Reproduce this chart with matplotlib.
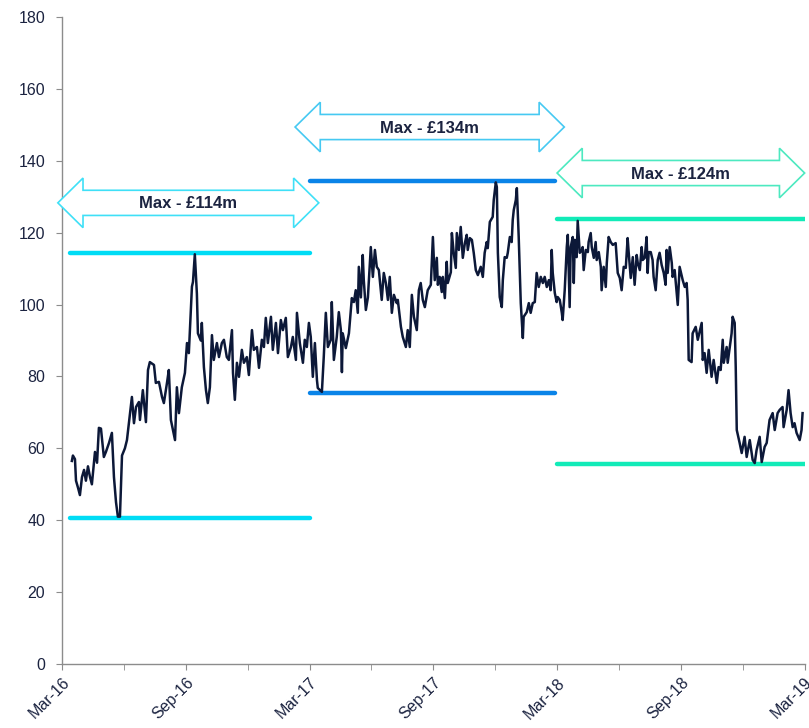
import matplotlib
matplotlib.use("Agg")
import matplotlib.pyplot as plt
from matplotlib.patches import Polygon

plt.rcParams['font.family'] = ['Liberation Sans', 'DejaVu Sans']

# time axis: months since Mar-16
months = [0.48,0.53,0.63,0.68,0.78,0.87,0.97,1.07,1.16,1.26,1.36,1.45,1.60,1.70,1.79,1.89,2.03,2.13,2.28,2.42,
          2.52,2.62,2.71,2.81,2.91,3.05,3.15,3.25,3.39,3.49,3.59,3.73,3.78,3.92,4.07,4.17,4.26,4.46,4.55,4.70,
          4.85,4.94,5.09,5.18,5.28,5.48,5.57,5.67,5.81,5.96,6.06,6.15,6.30,6.35,6.44,6.54,6.59,6.73,6.78,6.88,
          6.98,7.07,7.17,7.27,7.36,7.51,7.61,7.75,7.85,7.99,8.09,8.24,8.29,8.38,8.48,8.58,8.72,8.82,8.96,9.06,
          9.21,9.30,9.45,9.55,9.69,9.79,9.88,9.98,10.13,10.22,10.37,10.47,10.61,10.71,10.85,10.95,11.10,11.19,11.34,11.39,
          11.53,11.68,11.77,11.87,11.97,12.06,12.16,12.26,12.36,12.40,12.60,12.69,12.79,12.89,13.03,13.08,13.18,13.32,13.42,13.52,
          13.57,13.61,13.76,13.91,14.05,14.15,14.24,14.34,14.39,14.49,14.58,14.63,14.73,14.83,14.97,15.07,15.17,15.26,15.36,15.50,
          15.60,15.70,15.80,15.89,15.99,16.09,16.23,16.28,16.43,16.52,16.67,16.76,16.86,16.96,17.06,17.20,17.30,17.39,17.49,17.59,
          17.73,17.88,17.98,18.07,18.17,18.22,18.31,18.41,18.46,18.56,18.65,18.70,18.85,18.90,18.99,19.09,19.14,19.24,19.33,19.43,
          19.53,19.62,19.67,19.77,19.87,19.96,20.06,20.16,20.30,20.40,20.49,20.59,20.64,20.74,20.88,20.93,21.03,21.08,21.13,21.22,
          21.32,21.37,21.46,21.56,21.61,21.71,21.80,21.85,21.90,22.00,22.05,22.14,22.24,22.34,22.38,22.53,22.63,22.72,22.82,22.92,
          23.01,23.11,23.21,23.31,23.40,23.50,23.60,23.69,23.74,23.79,23.89,23.98,24.03,24.13,24.23,24.27,24.37,24.47,24.52,24.61,
          24.66,24.76,24.81,24.86,24.95,25.00,25.10,25.20,25.24,25.29,25.39,25.49,25.53,25.63,25.68,25.78,25.87,25.92,26.02,26.12,
          26.16,26.26,26.36,26.41,26.50,26.60,26.70,26.84,26.94,27.04,27.13,27.23,27.33,27.42,27.47,27.57,27.67,27.76,27.86,27.91,
          28.01,28.10,28.15,28.25,28.34,28.39,28.44,28.54,28.63,28.68,28.78,28.88,28.97,29.07,29.17,29.26,29.31,29.36,29.46,29.56,
          29.60,29.70,29.80,29.85,29.94,30.09,30.19,30.28,30.33,30.38,30.52,30.57,30.72,30.82,31.01,31.06,31.15,31.25,31.35,31.49,
          31.59,31.74,31.83,31.93,32.03,32.08,32.22,32.27,32.37,32.46,32.51,32.61,32.66,32.71,32.85,32.95,33.09,33.19,33.34,33.48,
          33.58,33.67,33.82,33.92,34.06,34.16,34.30,34.45,34.55,34.69,34.79,34.93,34.98,35.13,35.22,35.32,35.42,35.51,35.61,35.76,
          35.85,35.90]

values = [56.5,58,57,51,49,47,52,54,51,55,52,50,59,56,65.7,65.5,57.6,59,61.5,64.3,
          52,45,41,41,58,60,62.3,67.3,74.3,67,71.5,72.9,67.9,76.2,67.3,81.8,84,83.2,78.2,78.5,
          74.3,72.6,78.2,81.8,67.9,62.3,77,69.8,77,81,89.3,86.5,105,106.3,114,103,92,90,94.9,82.6,
          76.2,72.6,77,91.5,84.6,89.3,85.4,89.3,90.2,85.4,84.6,92.9,81,73.5,83.8,79.9,87.4,83.8,85.4,80.4,
          92.9,87.4,88.2,82.4,90.2,88.2,96.3,89.3,96.6,87.4,94.9,86.5,95.7,92.9,96.3,85.4,88.2,91,84.6,97.7,
          89.3,83.8,90.2,88.2,94.9,91,79.9,89.3,79,76.8,75.7,85.4,97.7,88.2,90.2,100.7,84.6,91,97.9,92.9,
          81.2,92,87.9,92,101.8,100.7,104,97.7,110.5,102,113.8,106.8,98.5,102,116,107.7,115.2,110.5,109.6,101.3,
          108.8,106,101.3,107.7,97.7,102.7,100.4,101.3,93.8,91,88.2,92.9,88.2,102.7,96.6,92.9,104,106,101.3,99.3,
          104,105.5,118.8,106.8,113,105.5,107.7,103.5,107.7,101.8,111.9,106,109,119.9,114.4,110.2,119.9,115.2,121.6,113,
          117.1,119.4,115.2,118.5,118,114.4,109.6,108.2,110.5,107.7,114.4,117.4,115.7,123,124.4,129.1,134,132.7,114.4,102.1,
          99.3,106.8,113.2,113,114.4,118.8,117.4,123.5,126.3,129.1,132.4,118.8,100.4,90.7,96.6,97.9,100.4,97.7,100.4,100.7,
          108.8,104.9,107.7,106,107.7,104.9,106.8,104,115.2,108.8,103.2,100.7,102.1,101.3,97.7,95.7,104,116,119.4,99.3,
          116,118.8,106,118,113.2,123.3,114.4,115.2,116,109.6,115.2,114.6,117.4,119.9,116,113,117.4,112.4,114.6,110.5,
          104,110.5,104.9,111.6,118.8,117.4,116.6,117.1,108.8,107.4,104,110.5,110.2,118.5,114.6,107.4,113.2,105.5,113.8,111.6,
          109.6,116,112.4,113,118.8,108.8,114.6,114.6,112.4,107.7,104,112.4,114.4,111,108.8,105.5,115.2,108.8,116,111.6,
          107.7,109.6,103.2,99.9,110.5,106.8,104.9,106,101.3,84.6,84,92,93.8,90.2,94.9,84.6,86.5,81,87.4,79.9,
          84.6,78.2,82.6,81.8,90.2,83.8,88.2,83.8,88.2,92,96.6,94.9,82.6,65.1,61.5,58.7,63.2,57.6,62.3,56.8,
          55.9,59.5,63.2,56.2,60.4,61.5,67.9,69.8,65.1,69.8,70.7,71.5,65.9,70.7,76.2,69.8,65.9,67,64.3,62.3,
          65.1,69.8]

# periods (start month, end month), max and min levels
period_start = [0.4, 12.0, 24.0]
period_end = [12.0, 23.9, 36.0]
period_max = [114.4, 134.3, 123.8]
period_min = [40.6, 75.3, 55.6]
period_labels = ['Max - £114m', 'Max - £134m', 'Max - £124m']
period_colors = ['#00dcf5', '#0a84e8', '#12ebb8']
arrow_colors = ['#3fe0f7', '#46c9f2', '#4de9c0']

tick_months = [0, 6, 12, 18, 24, 30, 36]
tick_labels = ['Mar-16', 'Sep-16', 'Mar-17', 'Sep-17', 'Mar-18', 'Sep-18', 'Mar-19']

text_color = '#1b2340'
line_color = '#0c1838'

fig = plt.figure(figsize=(8.09, 7.28), dpi=100)
ax = fig.add_axes([0.0766, 0.0879, 0.918, 0.8887])
ax.set_xlim(0, 36)
ax.set_ylim(0, 180)

for s, e, mx, mn, c in zip(period_start, period_end, period_max, period_min, period_colors):
    ax.plot([s, e], [mx, mx], color=c, lw=3.2, solid_capstyle='round', zorder=2)
    ax.plot([s, e], [mn, mn], color=c, lw=3.2, solid_capstyle='round', zorder=2)

ax.plot(months, values, color=line_color, lw=1.8, zorder=3)

# double-headed outline arrows (left tip, right tip, centre level)
arrow_left = [-0.2, 11.3, 24.0]
arrow_right = [12.45, 24.35, 36.0]
arrow_mid = [128.3, 149.4, 136.6]
for l, r, m, c, lab in zip(arrow_left, arrow_right, arrow_mid, arrow_colors, period_labels):
    hl = 1.22
    bh = 3.5
    hh = 6.9
    pts = [(l, m), (l + hl, m + hh), (l + hl, m + bh), (r - hl, m + bh), (r - hl, m + hh),
           (r, m), (r - hl, m - hh), (r - hl, m - bh), (l + hl, m - bh), (l + hl, m - hh)]
    ax.add_patch(Polygon(pts, closed=True, facecolor='white', edgecolor=c, lw=1.2,
                         clip_on=False, zorder=4))
    ax.text((l + r) / 2, m - 0.3, lab, ha='center', va='center', fontsize=12,
            fontweight='bold', color=text_color, zorder=5)

for side in ['top', 'right']:
    ax.spines[side].set_visible(False)
for side in ['left', 'bottom']:
    ax.spines[side].set_color('#8c8c8c')
    ax.spines[side].set_linewidth(1.0)

ax.set_yticks(range(0, 181, 20))
ax.set_xticks(tick_months)
ax.set_xticks([3, 9, 15, 21, 27, 33], minor=True)
ax.set_xticklabels(tick_labels, rotation=45, ha='right', rotation_mode='anchor')
ax.tick_params(axis='both', which='both', direction='out', color='#8c8c8c', length=4,
               labelsize=11.5, labelcolor=text_color)
ax.tick_params(axis='y', pad=8)
ax.tick_params(axis='x', which='major', pad=4)

fig.savefig('out.png', dpi=100)
